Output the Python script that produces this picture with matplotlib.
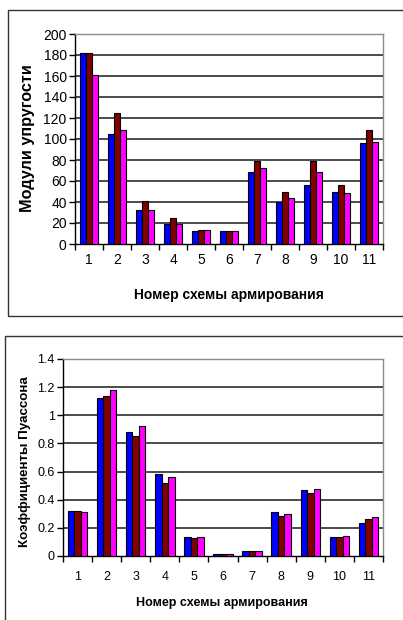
import matplotlib
matplotlib.use("Agg")
import matplotlib.pyplot as plt
import numpy as np
from matplotlib.patches import Rectangle

plt.rcParams['font.family'] = ['Liberation Sans', 'DejaVu Sans']

# Schemes of reinforcement
schemes = ["1", "2", "3", "4", "5", "6", "7", "8", "9", "10", "11"]

# Elastic moduli for the three directions
moduli_a = [182, 105, 32, 19, 12, 12, 69, 40, 56, 50, 96]
moduli_b = [182, 125, 41, 25, 13, 12, 79, 50, 79, 56, 109]
moduli_c = [161, 109, 32, 19, 13, 12, 72, 44, 69, 49, 97]

# Poisson's ratios for the three directions
poisson_a = [0.32, 1.126, 0.879, 0.586, 0.136, 0.015, 0.036, 0.312, 0.467, 0.136, 0.238]
poisson_b = [0.32, 1.136, 0.850, 0.521, 0.129, 0.015, 0.036, 0.286, 0.450, 0.136, 0.264]
poisson_c = [0.31, 1.181, 0.926, 0.562, 0.136, 0.015, 0.036, 0.302, 0.476, 0.145, 0.274]

moduli_ticks = [0, 20, 40, 60, 80, 100, 120, 140, 160, 180, 200]
poisson_ticks = [0, 0.2, 0.4, 0.6, 0.8, 1.0, 1.2, 1.4]
poisson_ticklabels = ["0", "0.2", "0.4", "0.6", "0.8", "1", "1.2", "1.4"]

colors = ["#0000FF", "#800000", "#FF00FF"]
W, H = 403, 620

fig = plt.figure(figsize=(W / 100, H / 100), dpi=100)

# Outer chart frames
fig.patches.append(Rectangle((7.7 / W, 1 - 316 / H), 1.2, (316 - 10) / H,
                             transform=fig.transFigure, fill=False,
                             edgecolor="#333333", lw=1.0))
fig.patches.append(Rectangle((4.5 / W, -0.2), 1.2, 0.2 + 1 - 336 / H,
                             transform=fig.transFigure, fill=False,
                             edgecolor="#333333", lw=1.0))


def px_axes(x0, x1, y0, y1):
    return fig.add_axes([x0 / W, 1 - y1 / H, (x1 - x0) / W, (y1 - y0) / H])


def draw(ax, series, ticks, ticklabels, ylim, fs_tick, xpad):
    x = np.arange(len(schemes))
    w = 0.222
    for i, (vals, c) in enumerate(zip(series, colors)):
        ax.bar(x + (i - 1) * w, vals, width=w, color=c, edgecolor="black",
               linewidth=0.8, zorder=3)
    ax.set_xlim(-0.5, len(schemes) - 0.5)
    ax.set_ylim(*ylim)
    ax.set_yticks(ticks)
    ax.set_yticklabels(ticklabels, fontsize=fs_tick)
    for t in ticks[1:-1]:
        ax.axhline(t, color="#1a1a1a", lw=1.1, zorder=1)
    ax.set_xticks(x)
    ax.set_xticklabels(schemes, fontsize=fs_tick)
    ax.set_xticks(np.arange(-0.5, len(schemes) + 0.5, 1), minor=True)
    ax.tick_params(axis="x", which="major", length=0, pad=xpad)
    ax.tick_params(axis="x", which="minor", length=4, width=1.0, direction="out")
    ax.tick_params(axis="y", length=4, width=1.0, direction="out", pad=2)
    for s in ("left", "bottom"):
        ax.spines[s].set_color("black")
        ax.spines[s].set_linewidth(1.0)
    for s in ("top", "right"):
        ax.spines[s].set_color("#8c8c8c")
        ax.spines[s].set_linewidth(1.0)
    ax.set_facecolor("white")


ax1 = px_axes(75, 383, 34, 244)
draw(ax1, [moduli_a, moduli_b, moduli_c], moduli_ticks,
     [str(t) for t in moduli_ticks], (0, 200), 10, 6.5)
fig.text(229 / W, 1 - 295 / H, "Номер схемы армирования", ha="center",
         va="center", fontsize=10, fontweight="bold")
fig.text(28 / W, 1 - 138 / H, "Модули упругости", ha="center", va="center",
         rotation=90, fontsize=11.7, fontweight="bold")

ax2 = px_axes(63, 383, 359, 556)
draw(ax2, [poisson_a, poisson_b, poisson_c], poisson_ticks,
     poisson_ticklabels, (0, 1.4), 9, 11)
fig.text(222 / W, 1 - 603 / H, "Номер схемы армирования", ha="center",
         va="center", fontsize=9, fontweight="bold")
fig.text(25 / W, 1 - 462 / H, "Коэффициенты Пуассона", ha="center",
         va="center", rotation=90, fontsize=9.6, fontweight="bold")

fig.savefig("out.png", dpi=100)
